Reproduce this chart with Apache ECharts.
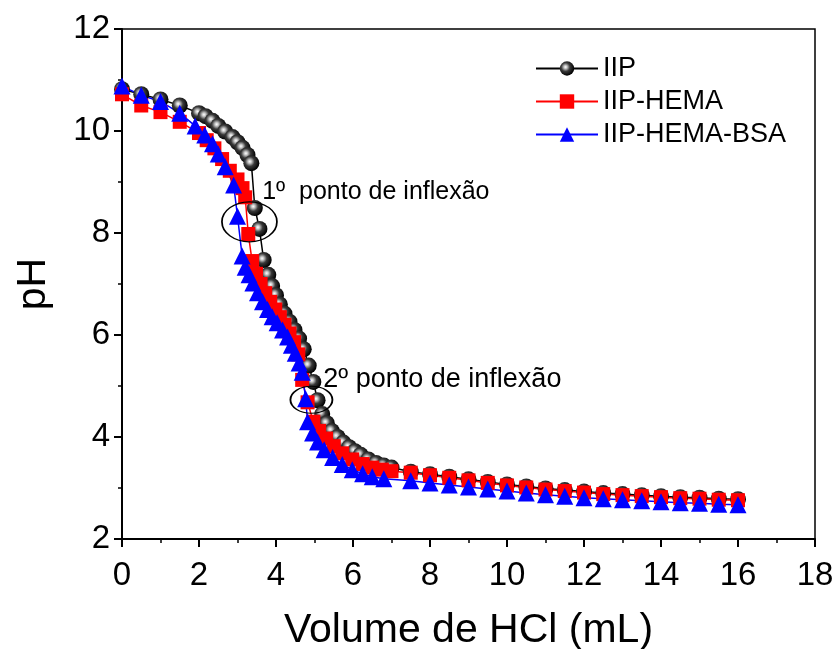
<!DOCTYPE html>
<html>
<head>
<meta charset="utf-8">
<script src="https://cdn.jsdelivr.net/npm/echarts@6/dist/echarts.min.js"></script>
<style>html,body{margin:0;padding:0;background:#fff}#c{width:837px;height:649px}</style>
</head>
<body>
<div id="c"></div>
<script>
// ---- data ----
var iipVol = [0,0.5,1,1.5,2,2.17,2.35,2.5,2.68,2.87,3.0,3.13,3.26,3.36,3.45,3.57,3.68,3.8,3.9,4.0,4.1,4.22,4.35,4.48,4.6,4.72,4.85,4.97,5.08,5.2,5.32,5.45,5.6,5.75,5.9,6.05,6.2,6.4,6.6,6.8,7.0,7.5,8,8.5,9,9.5,10,10.5,11,11.5,12,12.5,13,13.5,14,14.5,15,15.5,16];
var iipPH  = [10.82,10.72,10.62,10.5,10.35,10.29,10.2,10.1,9.99,9.88,9.78,9.67,9.53,9.37,8.49,8.08,7.47,7.18,6.96,6.78,6.6,6.42,6.26,6.1,5.93,5.72,5.4,5.08,4.72,4.45,4.27,4.12,4.0,3.89,3.8,3.72,3.65,3.56,3.49,3.44,3.4,3.32,3.27,3.22,3.17,3.12,3.07,3.03,2.99,2.96,2.93,2.9,2.88,2.86,2.84,2.82,2.81,2.79,2.78];

var hemaVol = [0,0.5,1,1.5,2,2.2,2.4,2.6,2.8,3.0,3.13,3.2,3.28,3.38,3.48,3.6,3.72,3.85,3.98,4.1,4.22,4.35,4.47,4.58,4.68,4.82,4.97,5.12,5.3,5.5,5.72,5.98,6.25,6.5,6.75,7.0,7.5,8,8.5,9,9.5,10,10.5,11,11.5,12,12.5,13,13.5,14,14.5,15,15.5,16];
var hemaPH  = [10.72,10.5,10.37,10.18,9.96,9.82,9.66,9.45,9.22,9.05,8.88,8.7,7.98,7.45,7.2,7.0,6.82,6.65,6.5,6.35,6.2,6.03,5.86,5.62,5.12,4.68,4.3,4.12,3.97,3.82,3.68,3.56,3.47,3.4,3.36,3.33,3.3,3.25,3.2,3.15,3.1,3.05,3.01,2.97,2.94,2.91,2.88,2.86,2.84,2.82,2.8,2.79,2.77,2.76];

var bsaVol = [0,0.5,1,1.5,1.9,2.15,2.35,2.5,2.68,2.9,3.0,3.12,3.2,3.3,3.4,3.52,3.65,3.78,3.9,4.03,4.17,4.3,4.4,4.5,4.6,4.68,4.77,4.82,4.95,5.08,5.25,5.47,5.72,5.98,6.25,6.5,6.8,7.5,8,8.5,9,9.5,10,10.5,11,11.5,12,12.5,13,13.5,14,14.5,15,15.5,16];
var bsaPH  = [10.88,10.7,10.58,10.35,10.1,9.92,9.75,9.55,9.3,8.94,8.33,7.55,7.33,7.18,7.02,6.83,6.65,6.5,6.36,6.24,6.1,5.96,5.8,5.64,5.45,5.27,4.75,4.3,4.08,3.9,3.75,3.6,3.46,3.36,3.28,3.22,3.18,3.14,3.1,3.06,3.02,2.98,2.94,2.9,2.87,2.84,2.81,2.79,2.77,2.75,2.73,2.71,2.7,2.68,2.67];

var seriesNames = ['IIP','IIP-HEMA','IIP-HEMA-BSA'];
var xTitle = 'Volume de HCl (mL)';
var yTitle = 'pH';
var note1 = '1\u00BA  ponto de inflex\u00E3o';
var note2 = '2\u00BA ponto de inflex\u00E3o';
var ellipse1 = [3.31, 8.22];
var ellipse2 = [4.92, 4.73];
var note1At = [3.64, 8.8];
var note2At = [5.23, 5.12];

function zip(a, b) { return a.map(function (v, i) { return [v, b[i]]; }); }

var FONT = 'Liberation Sans, Arial, sans-serif';
var chart = echarts.init(document.getElementById('c'), null, {renderer: 'canvas'});
var sphere = new echarts.graphic.RadialGradient(0.4, 0.4, 0.6, [
  {offset: 0, color: '#ffffff'},
  {offset: 0.18, color: '#c8c8c8'},
  {offset: 0.5, color: '#3a3a3a'},
  {offset: 1, color: '#000000'}
]);

var option = {
  animation: false,
  backgroundColor: '#fff',
  grid: {left: 122, right: 22, top: 29, bottom: 110, outerBoundsMode: 'none', containLabel: false,
         show: true, borderColor: '#000', borderWidth: 1.5, backgroundColor: 'transparent'},
  legend: {
    orient: 'vertical', left: 530, top: 50, itemWidth: 62, itemHeight: 18, itemGap: 6,
    textStyle: {fontFamily: FONT, fontSize: 27, color: '#000'},
    data: seriesNames
  },
  xAxis: {
    type: 'value', min: 0, max: 18, interval: 2,
    name: xTitle, nameLocation: 'middle', nameGap: 71,
    nameTextStyle: {fontFamily: FONT, fontSize: 41, color: '#000'},
    axisLine: {onZero: false, lineStyle: {color: '#000', width: 2}},
    axisTick: {inside: false, length: 8, lineStyle: {color: '#000', width: 2}},
    minorTick: {show: true, splitNumber: 2, length: 4, lineStyle: {color: '#000', width: 1.5}},
    axisLabel: {fontFamily: FONT, fontSize: 33, color: '#000', margin: 20},
    splitLine: {show: false}
  },
  yAxis: {
    type: 'value', min: 2, max: 12, interval: 2,
    name: yTitle, nameLocation: 'middle', nameGap: 68, nameRotate: 90,
    nameTextStyle: {fontFamily: FONT, fontSize: 41, color: '#000'},
    axisLine: {onZero: false, lineStyle: {color: '#000', width: 2}},
    axisTick: {inside: false, length: 8, lineStyle: {color: '#000', width: 2}},
    minorTick: {show: true, splitNumber: 2, length: 4, lineStyle: {color: '#000', width: 1.5}},
    axisLabel: {fontFamily: FONT, fontSize: 33, color: '#000', margin: 12},
    splitLine: {show: false}
  },
  series: [
    {
      name: seriesNames[0], type: 'line', data: zip(iipVol, iipPH),
      symbol: 'circle', symbolSize: 16,
      lineStyle: {color: '#000', width: 1.5},
      itemStyle: {color: sphere, borderWidth: 0}
    },
    {
      name: seriesNames[1], type: 'line', data: zip(hemaVol, hemaPH),
      symbol: 'rect', symbolSize: 14,
      lineStyle: {color: '#ff0000', width: 1.5},
      itemStyle: {color: '#ff0000', borderWidth: 0}
    },
    {
      name: seriesNames[2], type: 'line', data: zip(bsaVol, bsaPH),
      symbol: 'triangle', symbolSize: [17, 17],
      lineStyle: {color: '#0000ff', width: 1.5},
      itemStyle: {color: '#0000ff', borderWidth: 0},
      markPoint: {
        silent: true,
        data: [
          {coord: ellipse1, symbol: 'circle', symbolSize: [55, 40],
           itemStyle: {color: 'rgba(0,0,0,0)', borderColor: '#000', borderWidth: 1.5}, label: {show: false}},
          {coord: ellipse2, symbol: 'circle', symbolSize: [42, 27],
           itemStyle: {color: 'rgba(0,0,0,0)', borderColor: '#000', borderWidth: 1.5}, label: {show: false}},
          {coord: note1At, symbol: 'circle', symbolSize: 0,
           label: {show: true, formatter: note1, position: 'right', distance: 0, fontFamily: FONT, fontSize: 25, color: '#000'}},
          {coord: note2At, symbol: 'circle', symbolSize: 0,
           label: {show: true, formatter: note2, position: 'right', distance: 0, fontFamily: FONT, fontSize: 27, color: '#000'}}
        ]
      }
    }
  ]
};
chart.setOption(option);
</script>
</body>
</html>
